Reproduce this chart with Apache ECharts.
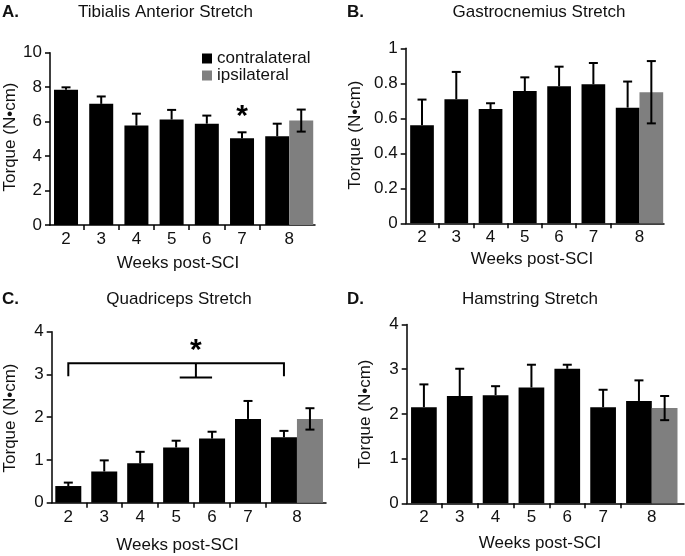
<!DOCTYPE html>
<html><head><meta charset="utf-8">
<script src="https://cdn.jsdelivr.net/npm/echarts@6/dist/echarts.min.js"></script>
<style>html,body{margin:0;padding:0;background:#fff}#c{width:685px;height:556px}</style>
</head><body><div id="c"></div>
<script>
// ---- data ----
const weeks = [2, 3, 4, 5, 6, 7, 8];
const tickLabels = ['2', '3', '4', '5', '6', '7', '8'];
const ipsiWeek = 8;

const taContra = [7.85, 7.03, 5.77, 6.12, 5.88, 5.03, 5.15];
const taContraErr = [0.14, 0.43, 0.69, 0.56, 0.47, 0.35, 0.73];
const taIpsi = 6.06, taIpsiErr = 0.64;

const gcContra = [0.56, 0.709, 0.653, 0.756, 0.783, 0.794, 0.661];
const gcContraErr = [0.147, 0.156, 0.033, 0.078, 0.112, 0.122, 0.149];
const gcIpsi = 0.749, gcIpsiErr = 0.178;

const qContra = [0.39, 0.73, 0.92, 1.29, 1.50, 1.96, 1.53];
const qContraErr = [0.08, 0.26, 0.27, 0.16, 0.16, 0.42, 0.15];
const qIpsi = 1.96, qIpsiErr = 0.25;

const hContra = [2.15, 2.40, 2.42, 2.59, 3.01, 2.15, 2.29];
const hContraErr = [0.51, 0.61, 0.20, 0.51, 0.09, 0.39, 0.46];
const hIpsi = 2.13, hIpsiErr = 0.27;

// annotations (data coordinates)
const taStar = [[7, 6.71]];
const qStar = [[5.55, 3.71]];
const qBracket = [[2, 2.96], [2, 3.26], [8, 3.26], [8, 2.96]];
const qStem = [[5.55, 3.26], [5.55, 2.93]];
const qStemCap = [[5.1, 2.93], [6.0, 2.93]];

const titles = ['Tibialis Anterior Stretch', 'Gastrocnemius Stretch', 'Quadriceps Stretch', 'Hamstring Stretch'];
const letters = ['A.', 'B.', 'C.', 'D.'];
const xName = 'Weeks post-SCI';
const yName = 'Torque (N\u2022cm)';

// ---- layout ----
const FONT = "'Liberation Sans', Arial, sans-serif";
const FS = 17;
const TXT = '#111';
const panels = [
  {left: 50, top: 52.7, width: 265, height: 172.3, xMin: 1.545, xMax: 9.073, yMax: 10, yInt: 2, barW: 24, spacing: 35.2,
   contra: taContra, err: taContraErr, ipsi: taIpsi, ipsiErr: taIpsiErr,
   title: [165.5, 12], letter: [2, 12], xn: [178, 263], yn: [10, 137]},
  {left: 405.7, top: 48.3, width: 258.3, height: 175, xMin: 1.524, xMax: 9.061, yMax: 1, yInt: 0.2, barW: 23.7, spacing: 34.27,
   contra: gcContra, err: gcContraErr, ipsi: gcIpsi, ipsiErr: gcIpsiErr,
   title: [539, 12], letter: [347, 12], xn: [532, 259], yn: [355, 135]},
  {left: 51.7, top: 331.7, width: 274.3, height: 171, xMin: 1.538, xMax: 9.17, yMax: 4, yInt: 1, barW: 26, spacing: 35.94,
   contra: qContra, err: qContraErr, ipsi: qIpsi, ipsiErr: qIpsiErr,
   title: [179, 299.5], letter: [2, 299.5], xn: [177.5, 545], yn: [10, 418]},
  {left: 406.7, top: 324.5, width: 277.3, height: 178.8, xMin: 1.52, xMax: 9.257, yMax: 4, yInt: 1, barW: 25.7, spacing: 35.84,
   contra: hContra, err: hContraErr, ipsi: hIpsi, ipsiErr: hIpsiErr,
   title: [530, 299.5], letter: [347, 299.5], xn: [540, 543], yn: [365, 414]}
];

const grid = [], xAxis = [], yAxis = [], series = [], graphic = [];

function txt(text, x, y, opt) {
  opt = opt || {};
  graphic.push({
    type: 'text', x: x, y: y, rotation: opt.rot || 0, silent: true,
    style: {text: text, font: (opt.bold ? 'bold ' : '') + FS + 'px ' + FONT, fill: TXT,
            textAlign: opt.align || 'center', textVerticalAlign: 'middle'}
  });
}

panels.forEach(function (p, i) {
  grid.push({left: p.left, top: p.top, width: p.width, height: p.height, containLabel: false});
  const halfU = p.barW / p.spacing / 2;
  xAxis.push({
    type: 'value', gridIndex: i, min: p.xMin, max: p.xMax,
    axisLine: {show: true, onZero: false, lineStyle: {color: '#000', width: 1.5}},
    splitLine: {show: false},
    axisTick: {show: true, length: 5, lineStyle: {color: '#000', width: 1.5},
               customValues: weeks.slice(0, -1).map(function (w) { return w + 0.5; })},
    axisLabel: {show: true, margin: 6, color: TXT, fontSize: FS, fontFamily: FONT,
                customValues: weeks.map(function (w) { return w === ipsiWeek ? w + halfU : w; }),
                formatter: function (v) { return tickLabels[weeks.indexOf(Math.round(v - 0.01))] || ''; }}
  });
  yAxis.push({
    type: 'value', gridIndex: i, min: 0, max: p.yMax, interval: p.yInt,
    axisLine: {show: true, lineStyle: {color: '#000', width: 1.5}},
    splitLine: {show: false},
    axisTick: {show: true, length: 5, lineStyle: {color: '#000', width: 1.5}},
    axisLabel: {margin: 8, color: TXT, fontSize: FS, fontFamily: FONT}
  });

  function barRender(off, color) {
    return function (params, api) {
      const x = api.value(0), v = api.value(1);
      const top = api.coord([x, v]), base = api.coord([x, 0]);
      const cx = top[0] + off * p.barW;
      return {type: 'rect', shape: {x: cx - p.barW / 2, y: top[1], width: p.barW, height: base[1] - top[1]},
              style: {fill: color}};
    };
  }
  series.push({
    type: 'custom', name: 'contralateral', xAxisIndex: i, yAxisIndex: i, itemStyle: {color: '#000'},
    renderItem: barRender(0, '#000'),
    data: weeks.map(function (w, k) { return [w, p.contra[k]]; })
  });
  series.push({
    type: 'custom', name: 'ipsilateral', xAxisIndex: i, yAxisIndex: i, itemStyle: {color: '#7f7f7f'},
    renderItem: barRender(1, '#7f7f7f'),
    data: [[ipsiWeek, p.ipsi]]
  });
  // error bars
  series.push({
    type: 'custom', xAxisIndex: i, yAxisIndex: i, z: 5,
    renderItem: function (params, api) {
      const x = api.value(0), v = api.value(1), e = api.value(2), both = api.value(3), off = api.value(4);
      const cx = api.coord([x, v])[0] + off * p.barW;
      const yv = api.coord([x, v])[1], yt = api.coord([x, v + e])[1], yb = api.coord([x, v - e])[1];
      const st = {stroke: '#000', lineWidth: 2};
      const cap = 4.5;
      const ch = [
        {type: 'line', shape: {x1: cx, y1: both ? yb : yv, x2: cx, y2: yt}, style: st},
        {type: 'line', shape: {x1: cx - cap, y1: yt, x2: cx + cap, y2: yt}, style: st}
      ];
      if (both) ch.push({type: 'line', shape: {x1: cx - cap, y1: yb, x2: cx + cap, y2: yb}, style: st});
      return {type: 'group', children: ch};
    },
    data: weeks.map(function (w, k) { return [w, p.contra[k], p.err[k], 0, 0]; })
      .concat([[ipsiWeek, p.ipsi, p.ipsiErr, 1, 1]])
  });

  txt(titles[i], p.title[0], p.title[1]);
  txt(letters[i], p.letter[0], p.letter[1], {bold: true, align: 'left'});
  txt(xName, p.xn[0], p.xn[1]);
  txt(yName, p.yn[0], p.yn[1], {rot: Math.PI / 2});
});

function starSeries(idx, pts) {
  return {
    type: 'custom', xAxisIndex: idx, yAxisIndex: idx, z: 6,
    renderItem: function (params, api) {
      const c = api.coord([api.value(0), api.value(1)]);
      return {type: 'text', x: c[0], y: c[1] + 7,
              style: {text: '*', font: 'bold 30px ' + FONT, fill: '#000', textAlign: 'center', textVerticalAlign: 'middle'}};
    },
    data: pts
  };
}
series.push(starSeries(0, taStar));
series.push(starSeries(2, qStar));

function polySeries(idx, pts) {
  return {
    type: 'custom', xAxisIndex: idx, yAxisIndex: idx, z: 6,
    renderItem: function (params, api) {
      if (params.dataIndex > 0) return null;
      const pp = pts.map(function (q) { return api.coord(q); });
      return {type: 'polyline', shape: {points: pp}, style: {stroke: '#000', lineWidth: 2, fill: null}};
    },
    data: [pts[0]]
  };
}
series.push(polySeries(2, qBracket));
series.push(polySeries(2, qStem));
series.push(polySeries(2, qStemCap));

const chart = echarts.init(document.getElementById('c'), null, {renderer: 'canvas'});
chart.setOption({
  animation: false,
  backgroundColor: '#fff',
  textStyle: {fontFamily: FONT},
  grid: grid, xAxis: xAxis, yAxis: yAxis, series: series, graphic: graphic,
  legend: {
    data: [{name: 'contralateral', icon: 'rect'}, {name: 'ipsilateral', icon: 'rect'}],
    orient: 'vertical', left: 202, top: 50, itemWidth: 10, itemHeight: 10, itemGap: 0, padding: 0,
    selectedMode: false, textStyle: {fontSize: FS, color: TXT, fontFamily: FONT}
  }
});
</script></body></html>
